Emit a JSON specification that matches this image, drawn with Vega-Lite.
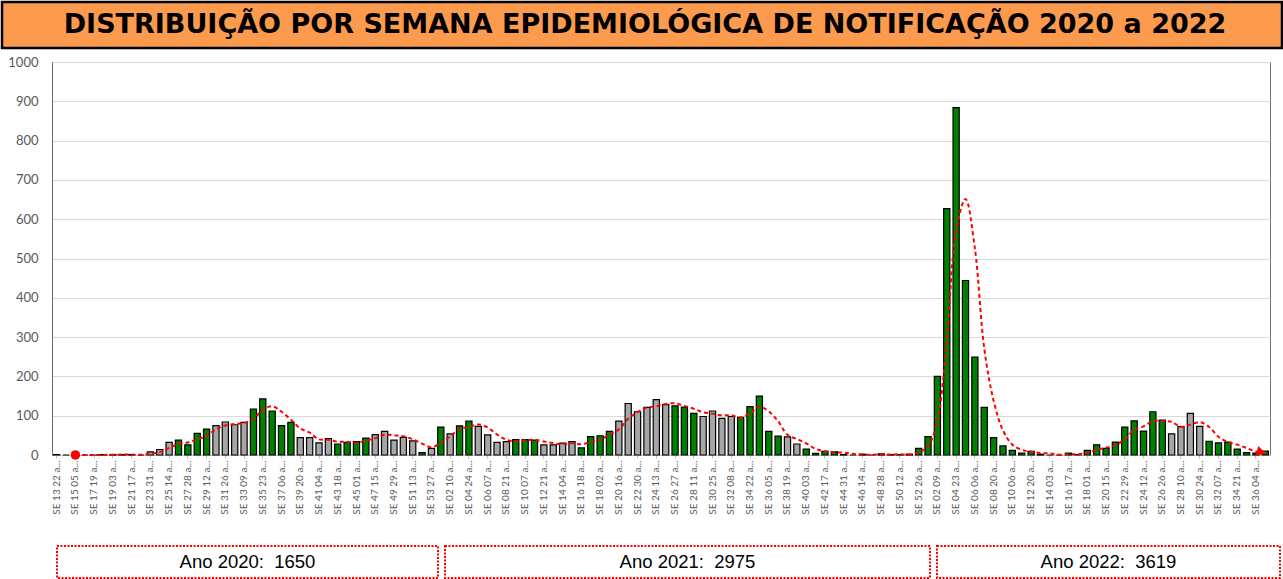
{
  "$schema": "https://vega.github.io/schema/vega-lite/v6.json",
  "padding": 0,
  "autosize": {"type": "pad"},
  "background": "white",
  "config": {"view": {"stroke": null}, "font": "Lato"},
  "datasets": {
    "semanas": [
      {"semana":"SE 13 22 a...","casos":1,"cor":"cinza","media":null},
      {"semana":"SE 14 29 a...","casos":0,"cor":"cinza","media":null},
      {"semana":"SE 15 05 a...","casos":0,"cor":"cinza","media":0.3},
      {"semana":"SE 16 12 a...","casos":0,"cor":"cinza","media":0},
      {"semana":"SE 17 19 a...","casos":0,"cor":"cinza","media":0},
      {"semana":"SE 18 26 a...","casos":1,"cor":"cinza","media":0.3},
      {"semana":"SE 19 03 a...","casos":1,"cor":"cinza","media":0.7},
      {"semana":"SE 20 10 a...","casos":1,"cor":"cinza","media":1},
      {"semana":"SE 21 17 a...","casos":1,"cor":"cinza","media":1},
      {"semana":"SE 22 24 a...","casos":0,"cor":"cinza","media":0.7},
      {"semana":"SE 23 31 a...","casos":8,"cor":"cinza","media":3},
      {"semana":"SE 24 07 a...","casos":14,"cor":"cinza","media":7.3},
      {"semana":"SE 25 14 a...","casos":32,"cor":"cinza","media":18},
      {"semana":"SE 26 21 a...","casos":38,"cor":"verde","media":28},
      {"semana":"SE 27 28 a...","casos":26,"cor":"verde","media":32},
      {"semana":"SE 28 05 a...","casos":55,"cor":"verde","media":39.7},
      {"semana":"SE 29 12 a...","casos":66,"cor":"verde","media":49},
      {"semana":"SE 30 19 a...","casos":75,"cor":"cinza","media":65.3},
      {"semana":"SE 31 26 a...","casos":84,"cor":"cinza","media":75},
      {"semana":"SE 32 02 a...","casos":77,"cor":"cinza","media":78.7},
      {"semana":"SE 33 09 a...","casos":83,"cor":"cinza","media":81.3},
      {"semana":"SE 34 16 a...","casos":117,"cor":"verde","media":92.3},
      {"semana":"SE 35 23 a...","casos":143,"cor":"verde","media":114.3},
      {"semana":"SE 36 30 a...","casos":112,"cor":"verde","media":124},
      {"semana":"SE 37 06 a...","casos":75,"cor":"verde","media":110},
      {"semana":"SE 38 13 a...","casos":83,"cor":"verde","media":90},
      {"semana":"SE 39 20 a...","casos":44,"cor":"cinza","media":67.3},
      {"semana":"SE 40 27 a...","casos":44,"cor":"cinza","media":57},
      {"semana":"SE 41 04 a...","casos":31,"cor":"cinza","media":39.7},
      {"semana":"SE 42 11 a...","casos":42,"cor":"cinza","media":39},
      {"semana":"SE 43 18 a...","casos":28,"cor":"verde","media":33.7},
      {"semana":"SE 44 25 a...","casos":32,"cor":"verde","media":34},
      {"semana":"SE 45 01 a...","casos":34,"cor":"verde","media":31.3},
      {"semana":"SE 46 08 a...","casos":43,"cor":"verde","media":36.3},
      {"semana":"SE 47 15 a...","casos":52,"cor":"cinza","media":43},
      {"semana":"SE 48 22 a...","casos":60,"cor":"cinza","media":51.7},
      {"semana":"SE 49 29 a...","casos":38,"cor":"cinza","media":50},
      {"semana":"SE 50 06 a...","casos":45,"cor":"cinza","media":47.7},
      {"semana":"SE 51 13 a...","casos":36,"cor":"cinza","media":39.7},
      {"semana":"SE 52 20 a...","casos":6,"cor":"verde","media":29},
      {"semana":"SE 53 27 a...","casos":17,"cor":"cinza","media":19.7},
      {"semana":"SE 01 03 a...","casos":71,"cor":"verde","media":31.3},
      {"semana":"SE 02 10 a...","casos":54,"cor":"cinza","media":47.3},
      {"semana":"SE 03 17 a...","casos":74,"cor":"verde","media":66.3},
      {"semana":"SE 04 24 a...","casos":86,"cor":"verde","media":71.3},
      {"semana":"SE 05 31 a...","casos":73,"cor":"cinza","media":77.7},
      {"semana":"SE 06 07 a...","casos":51,"cor":"cinza","media":70},
      {"semana":"SE 07 14 a...","casos":32,"cor":"cinza","media":52},
      {"semana":"SE 08 21 a...","casos":34,"cor":"cinza","media":39},
      {"semana":"SE 09 28 a...","casos":39,"cor":"verde","media":35},
      {"semana":"SE 10 07 a...","casos":39,"cor":"verde","media":37.3},
      {"semana":"SE 11 14 a...","casos":38,"cor":"verde","media":38.7},
      {"semana":"SE 12 21 a...","casos":26,"cor":"cinza","media":34.3},
      {"semana":"SE 13 28 a...","casos":26,"cor":"cinza","media":30},
      {"semana":"SE 14 04 a...","casos":30,"cor":"cinza","media":27.3},
      {"semana":"SE 15 11 a...","casos":34,"cor":"cinza","media":30},
      {"semana":"SE 16 18 a...","casos":18,"cor":"verde","media":27.3},
      {"semana":"SE 17 25 a...","casos":47,"cor":"verde","media":33},
      {"semana":"SE 18 02 a...","casos":49,"cor":"verde","media":38},
      {"semana":"SE 19 09 a...","casos":60,"cor":"verde","media":52},
      {"semana":"SE 20 16 a...","casos":86,"cor":"cinza","media":65},
      {"semana":"SE 21 23 a...","casos":131,"cor":"cinza","media":92.3},
      {"semana":"SE 22 30 a...","casos":110,"cor":"cinza","media":109},
      {"semana":"SE 23 06 a...","casos":121,"cor":"cinza","media":120.7},
      {"semana":"SE 24 13 a...","casos":141,"cor":"cinza","media":124},
      {"semana":"SE 25 20 a...","casos":128,"cor":"cinza","media":130},
      {"semana":"SE 26 27 a...","casos":125,"cor":"verde","media":131.3},
      {"semana":"SE 27 04 a...","casos":122,"cor":"verde","media":125},
      {"semana":"SE 28 11 a...","casos":106,"cor":"verde","media":117.7},
      {"semana":"SE 29 18 a...","casos":98,"cor":"cinza","media":108.7},
      {"semana":"SE 30 25 a...","casos":112,"cor":"cinza","media":105.3},
      {"semana":"SE 31 01 a...","casos":93,"cor":"cinza","media":101},
      {"semana":"SE 32 08 a...","casos":98,"cor":"cinza","media":101},
      {"semana":"SE 33 15 a...","casos":96,"cor":"verde","media":95.7},
      {"semana":"SE 34 22 a...","casos":123,"cor":"verde","media":105.7},
      {"semana":"SE 35 29 a...","casos":150,"cor":"verde","media":123},
      {"semana":"SE 36 05 a...","casos":60,"cor":"verde","media":111},
      {"semana":"SE 37 12 a...","casos":48,"cor":"verde","media":86},
      {"semana":"SE 38 19 a...","casos":46,"cor":"cinza","media":51.3},
      {"semana":"SE 39 26 a...","casos":28,"cor":"cinza","media":40.7},
      {"semana":"SE 40 03 a...","casos":15,"cor":"verde","media":29.7},
      {"semana":"SE 41 10 a...","casos":4,"cor":"verde","media":15.7},
      {"semana":"SE 42 17 a...","casos":9,"cor":"verde","media":9.3},
      {"semana":"SE 43 24 a...","casos":8,"cor":"verde","media":7},
      {"semana":"SE 44 31 a...","casos":1,"cor":"cinza","media":6},
      {"semana":"SE 45 07 a...","casos":0,"cor":"cinza","media":3},
      {"semana":"SE 46 14 a...","casos":2,"cor":"cinza","media":1},
      {"semana":"SE 47 21 a...","casos":0,"cor":"cinza","media":0.7},
      {"semana":"SE 48 28 a...","casos":3,"cor":"cinza","media":1.7},
      {"semana":"SE 49 05 a...","casos":1,"cor":"cinza","media":1.3},
      {"semana":"SE 50 12 a...","casos":1,"cor":"cinza","media":1.7},
      {"semana":"SE 51 19 a...","casos":2,"cor":"cinza","media":1.3},
      {"semana":"SE 52 26 a...","casos":17,"cor":"verde","media":6.7},
      {"semana":"SE 01 02 a...","casos":47,"cor":"verde","media":22},
      {"semana":"SE 02 09 a...","casos":200,"cor":"verde","media":88},
      {"semana":"SE 03 16 a...","casos":627,"cor":"verde","media":291.3},
      {"semana":"SE 04 23 a...","casos":884,"cor":"verde","media":570.3},
      {"semana":"SE 05 30 a...","casos":444,"cor":"verde","media":651.7},
      {"semana":"SE 06 06 a...","casos":249,"cor":"verde","media":525.7},
      {"semana":"SE 07 13 a...","casos":121,"cor":"verde","media":271.3},
      {"semana":"SE 08 20 a...","casos":44,"cor":"verde","media":138},
      {"semana":"SE 09 27 a...","casos":23,"cor":"verde","media":62.7},
      {"semana":"SE 10 06 a...","casos":12,"cor":"verde","media":26.3},
      {"semana":"SE 11 13 a...","casos":5,"cor":"verde","media":13.3},
      {"semana":"SE 12 20 a...","casos":9,"cor":"verde","media":8.7},
      {"semana":"SE 13 27 a...","casos":2,"cor":"verde","media":5.3},
      {"semana":"SE 14 03 a...","casos":0,"cor":"verde","media":3.7},
      {"semana":"SE 15 10 a...","casos":0,"cor":"verde","media":0.7},
      {"semana":"SE 16 17 a...","casos":5,"cor":"verde","media":1.7},
      {"semana":"SE 17 24 a...","casos":1,"cor":"verde","media":2},
      {"semana":"SE 18 01 a...","casos":12,"cor":"verde","media":6},
      {"semana":"SE 19 08 a...","casos":26,"cor":"verde","media":13},
      {"semana":"SE 20 15 a...","casos":17,"cor":"verde","media":18.3},
      {"semana":"SE 21 22 a...","casos":33,"cor":"verde","media":25.3},
      {"semana":"SE 22 29 a...","casos":71,"cor":"verde","media":40.3},
      {"semana":"SE 23 05 a...","casos":87,"cor":"verde","media":63.7},
      {"semana":"SE 24 12 a...","casos":61,"cor":"verde","media":73},
      {"semana":"SE 25 19 a...","casos":110,"cor":"verde","media":86},
      {"semana":"SE 26 26 a...","casos":89,"cor":"verde","media":86.7},
      {"semana":"SE 27 03 a...","casos":54,"cor":"cinza","media":84.3},
      {"semana":"SE 28 10 a...","casos":72,"cor":"cinza","media":71.7},
      {"semana":"SE 29 17 a...","casos":106,"cor":"cinza","media":77.3},
      {"semana":"SE 30 24 a...","casos":73,"cor":"cinza","media":83.7},
      {"semana":"SE 31 31 a...","casos":35,"cor":"verde","media":71.3},
      {"semana":"SE 32 07 a...","casos":31,"cor":"verde","media":46.3},
      {"semana":"SE 33 14 a...","casos":33,"cor":"verde","media":33},
      {"semana":"SE 34 21 a...","casos":15,"cor":"verde","media":26.3},
      {"semana":"SE 35 28 a...","casos":6,"cor":"verde","media":18},
      {"semana":"SE 36 04 a...","casos":5,"cor":"verde","media":8.7},
      {"semana":"SE 37 11 a...","casos":10,"cor":"verde","media":7}
    ]
  },
  "spacing": 5,
  "vconcat": [
    {
      "width": 1280,
      "height": 46,
      "view": {"fill": "#FC9A4E", "stroke": "#000000", "strokeWidth": 2.5},
      "data": {"values": [{"titulo": "DISTRIBUIÇÃO POR SEMANA EPIDEMIOLÓGICA DE NOTIFICAÇÃO 2020 a 2022"}]},
      "mark": {"type": "text", "font": "DejaVu Sans", "fontWeight": "bold", "fontSize": 27, "color": "#000000", "dx": 3},
      "encoding": {"text": {"field": "titulo"}}
    },
    {
      "spacing": 30,
      "vconcat": [
        {
          "spacing": 0,
          "hconcat": [
            {
              "width": 1, "height": 393,
              "data": {"values": [{"rotulo": ""}]},
              "mark": {"type": "text"},
              "encoding": {"text": {"field": "rotulo"}}
            },
            {
              "width": 1218,
              "height": 393,
              "view": {"stroke": "#6E6E6E", "strokeWidth": 1},
              "data": {"name": "semanas"},
              "layer": [
                {
                  "mark": {"type": "bar", "stroke": "#000000", "strokeWidth": 1.2},
                  "encoding": {
                    "x": {
                      "field": "semana", "type": "nominal", "sort": null,
                      "scale": {"paddingInner": 0.34, "paddingOuter": 0.17},
                      "axis": {
                        "title": null, "labelAngle": -90, "labelColor": "#595959", "labelFont": "Lato", "labelFontSize": 10,
                        "labelOverlap": false, "labelPadding": 2, "domainColor": "#BFBFBF", "tickColor": "#BFBFBF", "tickSize": 3,
                        "values": ["SE 13 22 a...","SE 15 05 a...","SE 17 19 a...","SE 19 03 a...","SE 21 17 a...","SE 23 31 a...","SE 25 14 a...","SE 27 28 a...","SE 29 12 a...","SE 31 26 a...","SE 33 09 a...","SE 35 23 a...","SE 37 06 a...","SE 39 20 a...","SE 41 04 a...","SE 43 18 a...","SE 45 01 a...","SE 47 15 a...","SE 49 29 a...","SE 51 13 a...","SE 53 27 a...","SE 02 10 a...","SE 04 24 a...","SE 06 07 a...","SE 08 21 a...","SE 10 07 a...","SE 12 21 a...","SE 14 04 a...","SE 16 18 a...","SE 18 02 a...","SE 20 16 a...","SE 22 30 a...","SE 24 13 a...","SE 26 27 a...","SE 28 11 a...","SE 30 25 a...","SE 32 08 a...","SE 34 22 a...","SE 36 05 a...","SE 38 19 a...","SE 40 03 a...","SE 42 17 a...","SE 44 31 a...","SE 46 14 a...","SE 48 28 a...","SE 50 12 a...","SE 52 26 a...","SE 02 09 a...","SE 04 23 a...","SE 06 06 a...","SE 08 20 a...","SE 10 06 a...","SE 12 20 a...","SE 14 03 a...","SE 16 17 a...","SE 18 01 a...","SE 20 15 a...","SE 22 29 a...","SE 24 12 a...","SE 26 26 a...","SE 28 10 a...","SE 30 24 a...","SE 32 07 a...","SE 34 21 a...","SE 36 04 a..."]
                      }
                    },
                    "y": {
                      "field": "casos", "type": "quantitative",
                      "scale": {"domain": [0, 1000], "nice": false},
                      "axis": {
                        "title": null, "values": [0,100,200,300,400,500,600,700,800,900,1000], "format": "d",
                        "grid": true, "gridColor": "#D9D9D9", "ticks": false, "labelPadding": 14,
                        "labelColor": "#595959", "labelFont": "Lato", "labelFontSize": 13,
                        "domainColor": "#6E6E6E", "minExtent": 48
                      }
                    },
                    "color": {
                      "field": "cor", "type": "nominal", "legend": null,
                      "scale": {"domain": ["verde", "cinza"], "range": ["#008000", "#A6A6A6"]}
                    }
                  }
                },
                {
                  "mark": {"type": "line", "color": "#FF0000", "strokeWidth": 2, "strokeDash": [4, 3], "interpolate": "catmull-rom"},
                  "encoding": {
                    "x": {"field": "semana", "type": "nominal", "sort": null},
                    "y": {
                      "field": "media", "type": "quantitative",
                      "axis": {
                        "title": null, "values": [0,100,200,300,400,500,600,700,800,900,1000], "format": "d",
                        "grid": true, "gridColor": "#D9D9D9", "ticks": false, "labelPadding": 14,
                        "labelColor": "#595959", "labelFont": "Lato", "labelFontSize": 13,
                        "domainColor": "#6E6E6E", "minExtent": 48
                      }
                    }
                  }
                },
                {
                  "transform": [{"filter": {"field": "semana", "equal": "SE 15 05 a..."}}],
                  "mark": {"type": "point", "shape": "circle", "filled": true, "color": "#FF0000", "size": 90, "opacity": 1},
                  "encoding": {
                    "x": {"field": "semana", "type": "nominal", "sort": null},
                    "y": {
                      "field": "media", "type": "quantitative",
                      "axis": {
                        "title": null, "values": [0,100,200,300,400,500,600,700,800,900,1000], "format": "d",
                        "grid": true, "gridColor": "#D9D9D9", "ticks": false, "labelPadding": 14,
                        "labelColor": "#595959", "labelFont": "Lato", "labelFontSize": 13,
                        "domainColor": "#6E6E6E", "minExtent": 48
                      }
                    }
                  }
                },
                {
                  "transform": [{"filter": {"field": "semana", "equal": "SE 37 11 a..."}}],
                  "mark": {"type": "point", "shape": "triangle-right", "filled": true, "color": "#FF0000", "size": 110, "angle": 14, "opacity": 1, "xOffset": -4},
                  "encoding": {
                    "x": {"field": "semana", "type": "nominal", "sort": null},
                    "y": {
                      "field": "media", "type": "quantitative",
                      "axis": {
                        "title": null, "values": [0,100,200,300,400,500,600,700,800,900,1000], "format": "d",
                        "grid": true, "gridColor": "#D9D9D9", "ticks": false, "labelPadding": 14,
                        "labelColor": "#595959", "labelFont": "Lato", "labelFontSize": 13,
                        "domainColor": "#6E6E6E", "minExtent": 48
                      }
                    }
                  }
                }
              ]
            }
          ]
        },
        {
          "spacing": 5,
          "hconcat": [
            {
              "width": 49, "height": 32,
              "data": {"values": [{"rotulo": ""}]},
              "mark": {"type": "text"},
              "encoding": {"text": {"field": "rotulo"}}
            },
            {
              "width": 381, "height": 32,
              "view": {"fill": "white", "stroke": "#FF0000", "strokeWidth": 2, "strokeDash": [2, 1.5]},
              "data": {"values": [{"rotulo": "Ano 2020:\u00a0 1650"}]},
              "mark": {"type": "text", "font": "Liberation Sans", "fontSize": 18.5, "color": "#000000"},
              "encoding": {"text": {"field": "rotulo"}}
            },
            {
              "width": 485, "height": 32,
              "view": {"fill": "white", "stroke": "#FF0000", "strokeWidth": 2, "strokeDash": [2, 1.5]},
              "data": {"values": [{"rotulo": "Ano 2021:\u00a0 2975"}]},
              "mark": {"type": "text", "font": "Liberation Sans", "fontSize": 18.5, "color": "#000000"},
              "encoding": {"text": {"field": "rotulo"}}
            },
            {
              "width": 343, "height": 32,
              "view": {"fill": "white", "stroke": "#FF0000", "strokeWidth": 2, "strokeDash": [2, 1.5]},
              "data": {"values": [{"rotulo": "Ano 2022:\u00a0 3619"}]},
              "mark": {"type": "text", "font": "Liberation Sans", "fontSize": 18.5, "color": "#000000"},
              "encoding": {"text": {"field": "rotulo"}}
            }
          ]
        }
      ]
    }
  ]
}
